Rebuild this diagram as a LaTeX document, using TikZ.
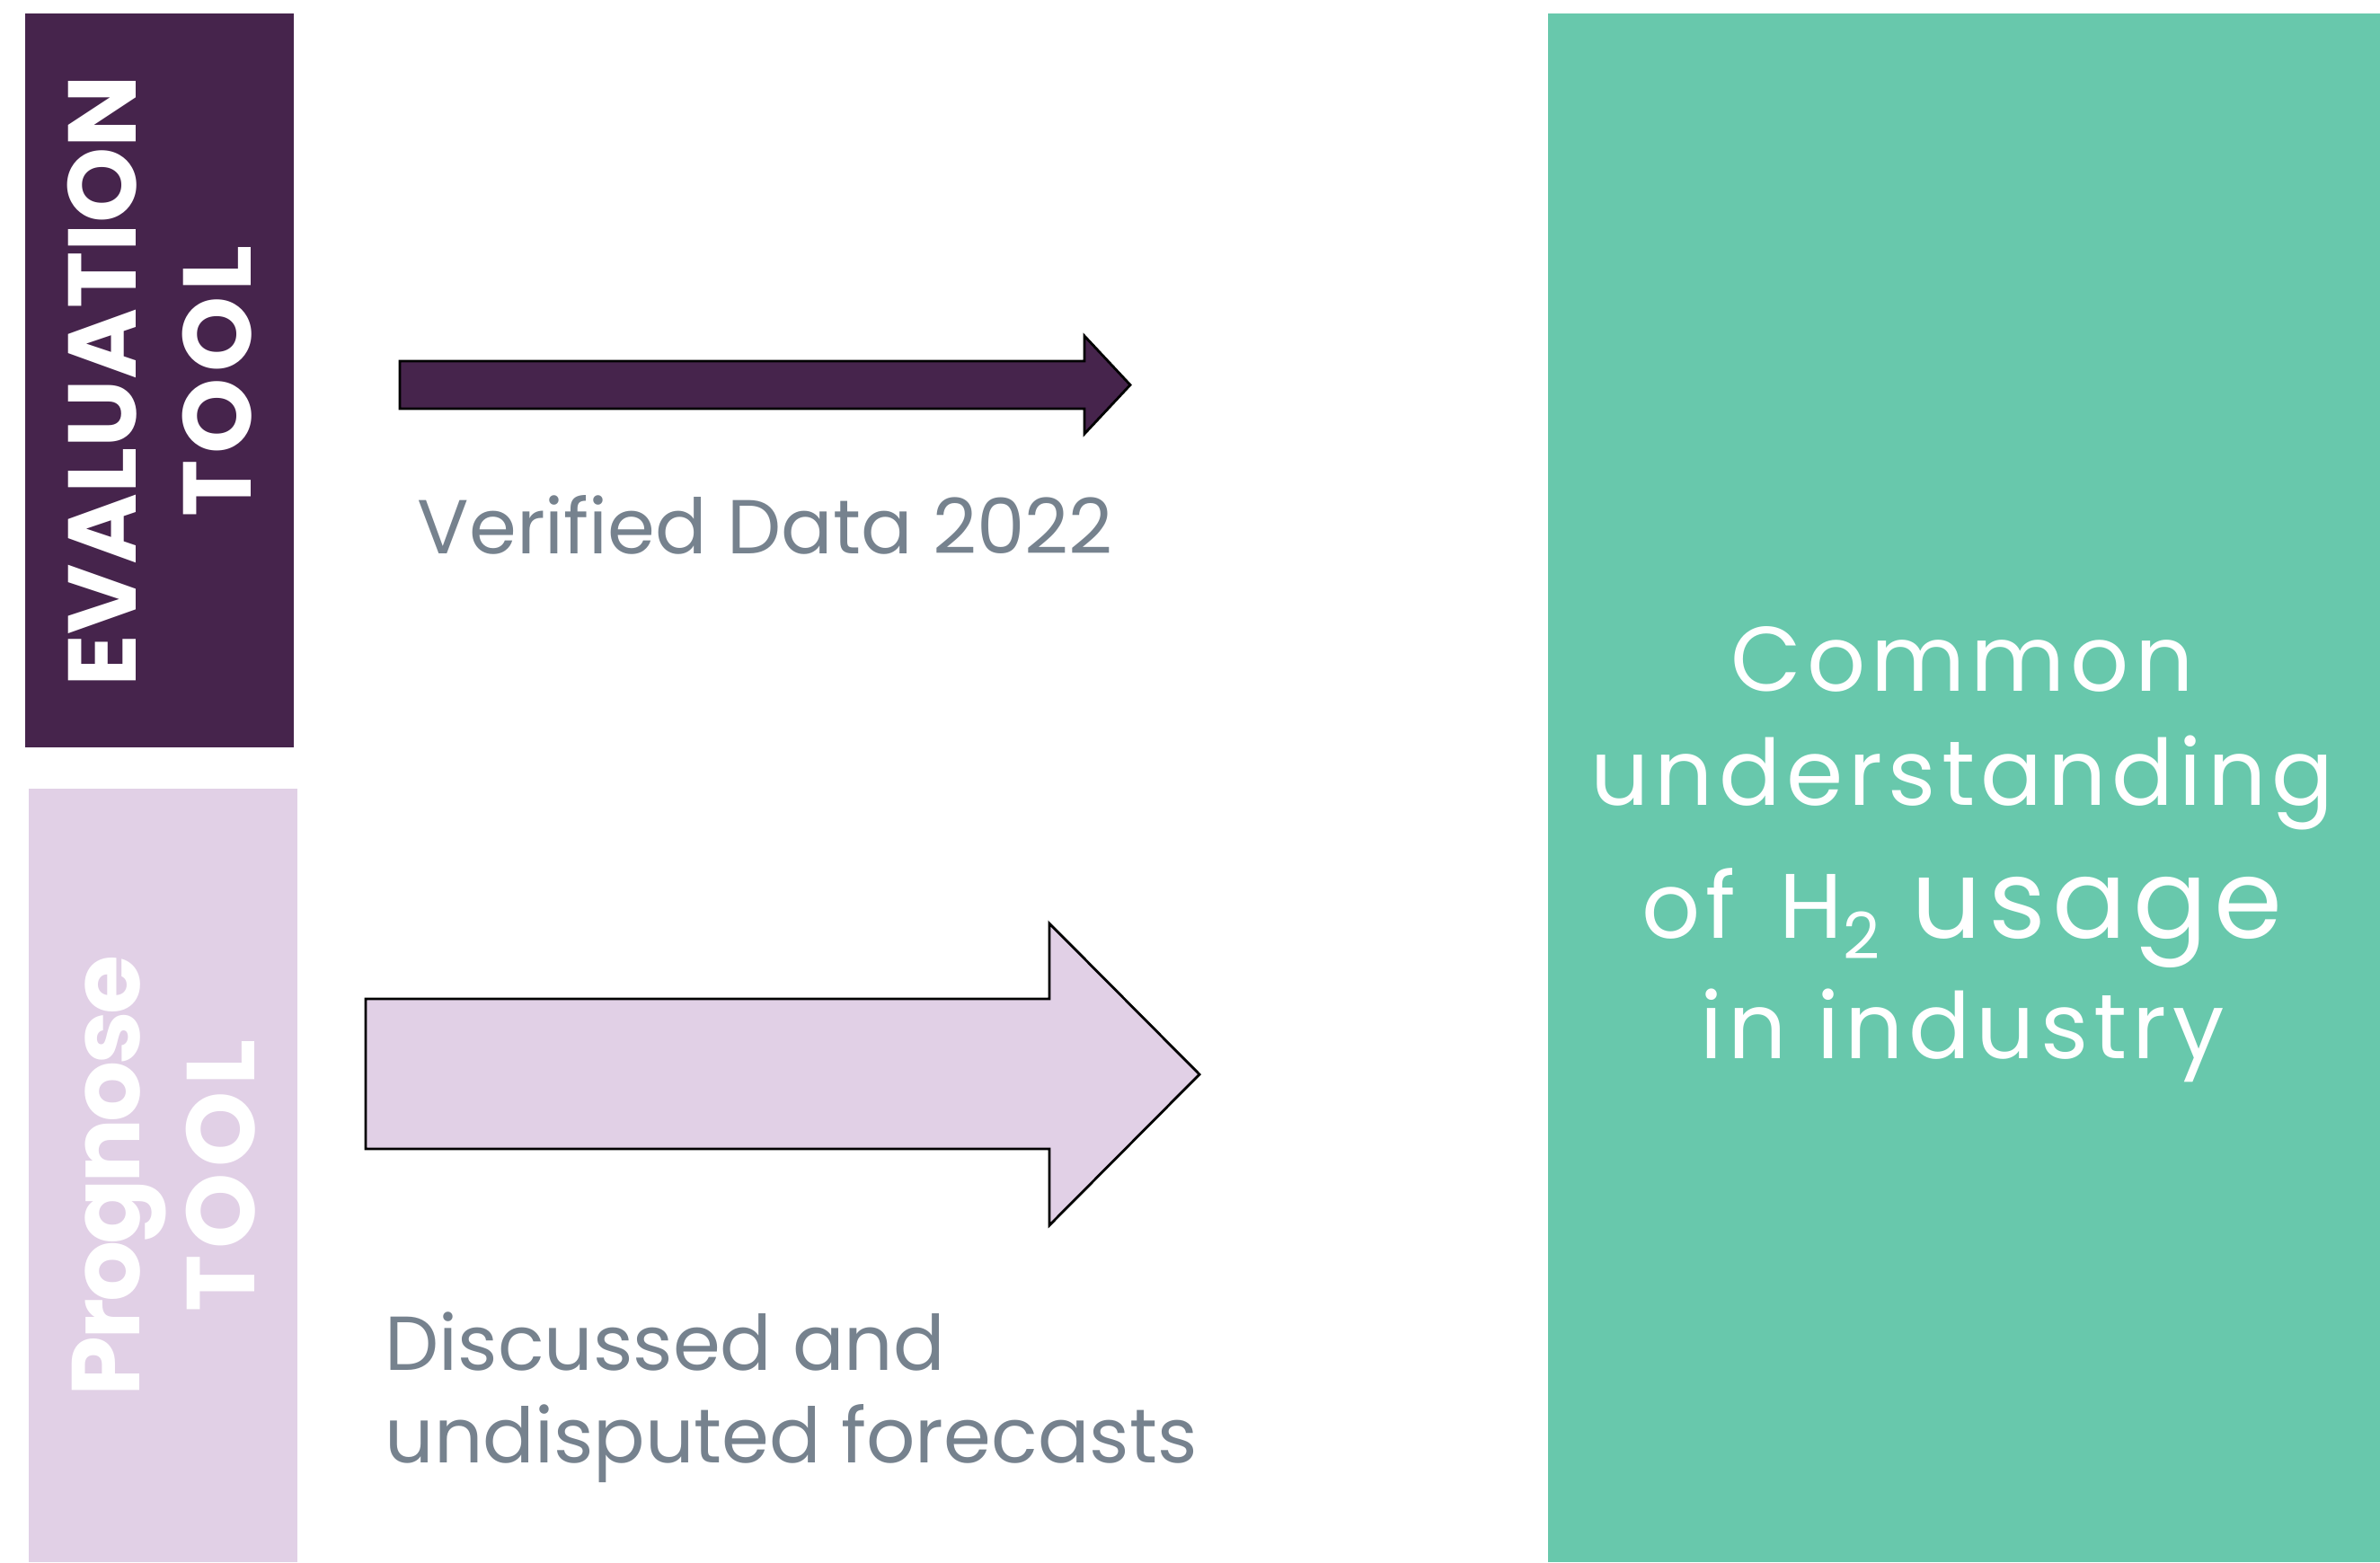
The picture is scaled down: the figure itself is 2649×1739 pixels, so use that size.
\documentclass[tikz,border=0pt]{standalone}
\usepackage{fontspec}
\setmainfont{Poppins}
\usepackage{tikz}
\usetikzlibrary{positioning,calc}
\definecolor{evalpurple}{RGB}{70,36,76}
\definecolor{proglilac}{RGB}{225,208,230}
\definecolor{commongreen}{RGB}{104,200,172}
\definecolor{notegray}{RGB}{118,130,142}
\newcommand*{\SideFont}{\fontsize{30.5pt}{36.4pt}\selectfont\bfseries}
\newcommand*{\NoteFont}{\fontsize{24.2pt}{29.3pt}\selectfont}
\newcommand*{\WideTool}{{\addfontfeature{LetterSpace=6}TOOL}}

\begin{document}
\begin{tikzpicture}[x=0.01cm,y=-0.01cm,
  sidelabel/.style={rotate=90,align=center,inner sep=0pt,text=white,font=\SideFont},
  note/.style={inner sep=0pt,text=notegray,font=\NoteFont},
  blockarrow/.style={draw=black,line width=0.8pt,line join=miter}]
\useasboundingbox (0,0) rectangle (2649,1739);
% boxes
\fill[evalpurple] (28,15) rectangle (327,832);
\fill[proglilac] (32,878) rectangle (331,1739);
\fill[commongreen] (1723,15) rectangle (2649,1739);
\node[sidelabel] (EVAL) at (178,424) {EVALUATION\\\WideTool};
\node[sidelabel] (PROG) at (182,1309) {{\addfontfeature{LetterSpace=-4}Prognose}\\\WideTool};
\node[inner sep=0pt,anchor=north,align=center,text=white,
  font={\fontsize{29pt}{36.1pt}\selectfont\addfontfeature{LetterSpace=6}}]
  (COMMON) at (2184,697) {Common\\understanding\\[6pt]of\hspace{0.15em} H\textsubscript{2}
  {\fontsize{34.8pt}{36.1pt}\selectfont usage}\\[2pt]in industry};
% arrows
\draw[blockarrow,fill=evalpurple] (445,402) -- (1207,402) -- (1207,374)
  -- (1258,428.5) -- (1207,483) -- (1207,455) -- (445,455) -- cycle;
\draw[blockarrow,fill=proglilac] (407,1112) -- (1168,1112) -- (1168,1028)
  -- (1335,1196) -- (1168,1364) -- (1168,1279) -- (407,1279) -- cycle;
\node[note,anchor=base west] (VERIFIED) at (464,616) {Verified Data 2022};
\node[note,anchor=north west,align=left] (FORECAST) at (428,1460) {Discussed and\\undisputed forecasts};
\end{tikzpicture}
\end{document}
